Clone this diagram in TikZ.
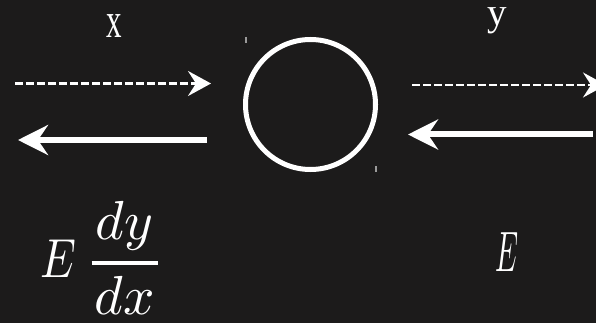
\documentclass[tikz,border=0pt]{standalone}
\usepackage{fontspec}
\usepackage{graphicx}
\usetikzlibrary{arrows.meta}
\newfontfamily\labelfont{Liberation Serif}
\definecolor{board}{HTML}{1C1B1B}
\definecolor{tickgray}{HTML}{9A9A9A}
\begin{document}
\begin{tikzpicture}[x=1pt,y=-1pt,
  dasharrow/.style={draw=white, line width=2.5pt, dash pattern=on 8pt off 3pt,
    -{Stealth[length=23pt,width=25pt,inset=8pt,fill=white]}},
  solidarrow/.style={draw=white, line width=6pt,
    -{Stealth[length=30pt,width=30pt,inset=10pt,fill=white]}},
  lbl/.style={text=white, inner sep=0pt, outer sep=0pt},
  ring/.style={circle, draw=white, line width=5pt, minimum size=130pt, inner sep=0pt},
  tickmark/.style={draw=tickgray, line width=1.5pt},
]
\useasboundingbox (0,0) rectangle (596,323);
\fill[board] (0,0) rectangle (596,323);
\clip (0,0) rectangle (596,323);

% labels
\node[lbl, anchor=base] (lx) at (114.5,38) {\labelfont\fontsize{50}{50}\selectfont\scalebox{0.62}[1]{x}};
\node[lbl, anchor=base, text height=19pt, text depth=10pt] (ly) at (497.5,26) {\labelfont\fontsize{39}{39}\selectfont y};

% central circle
\node[ring] (c) at (310.5,104.5) {};

% arrow end points
\coordinate (dlS) at (15,83.5);
\coordinate (dlE) at (211,83.5);
\coordinate (slS) at (207,140);
\coordinate (slE) at (18,140);
\coordinate (drS) at (412,85);
\coordinate (drE) at (606,85);
\coordinate (srS) at (593,134.5);
\coordinate (srE) at (408,134.5);

\draw[dasharrow] (dlS) -- (dlE);
\draw[solidarrow] (slS) -- (slE);
\draw[dasharrow] (drS) -- (drE);
\draw[solidarrow] (srS) -- (srE);

% small marks
\draw[tickmark] (246,37) -- (246,43);
\draw[tickmark] (376,166) -- (376,172);

% formulas
\node[lbl, anchor=base west] (fl) at (40,277)
  {\scalebox{5.5}{$\displaystyle\scalebox{0.82}[1]{$E$}\,{{\displaystyle\mkern1mu dy\mkern1mu}\above0.7pt{\displaystyle\mkern1mu dx\mkern1mu}}$}};
\node[lbl, anchor=base] (fr) at (507.5,271)
  {\scalebox{2.9}[5.7]{$E$}};
\end{tikzpicture}
\end{document}
